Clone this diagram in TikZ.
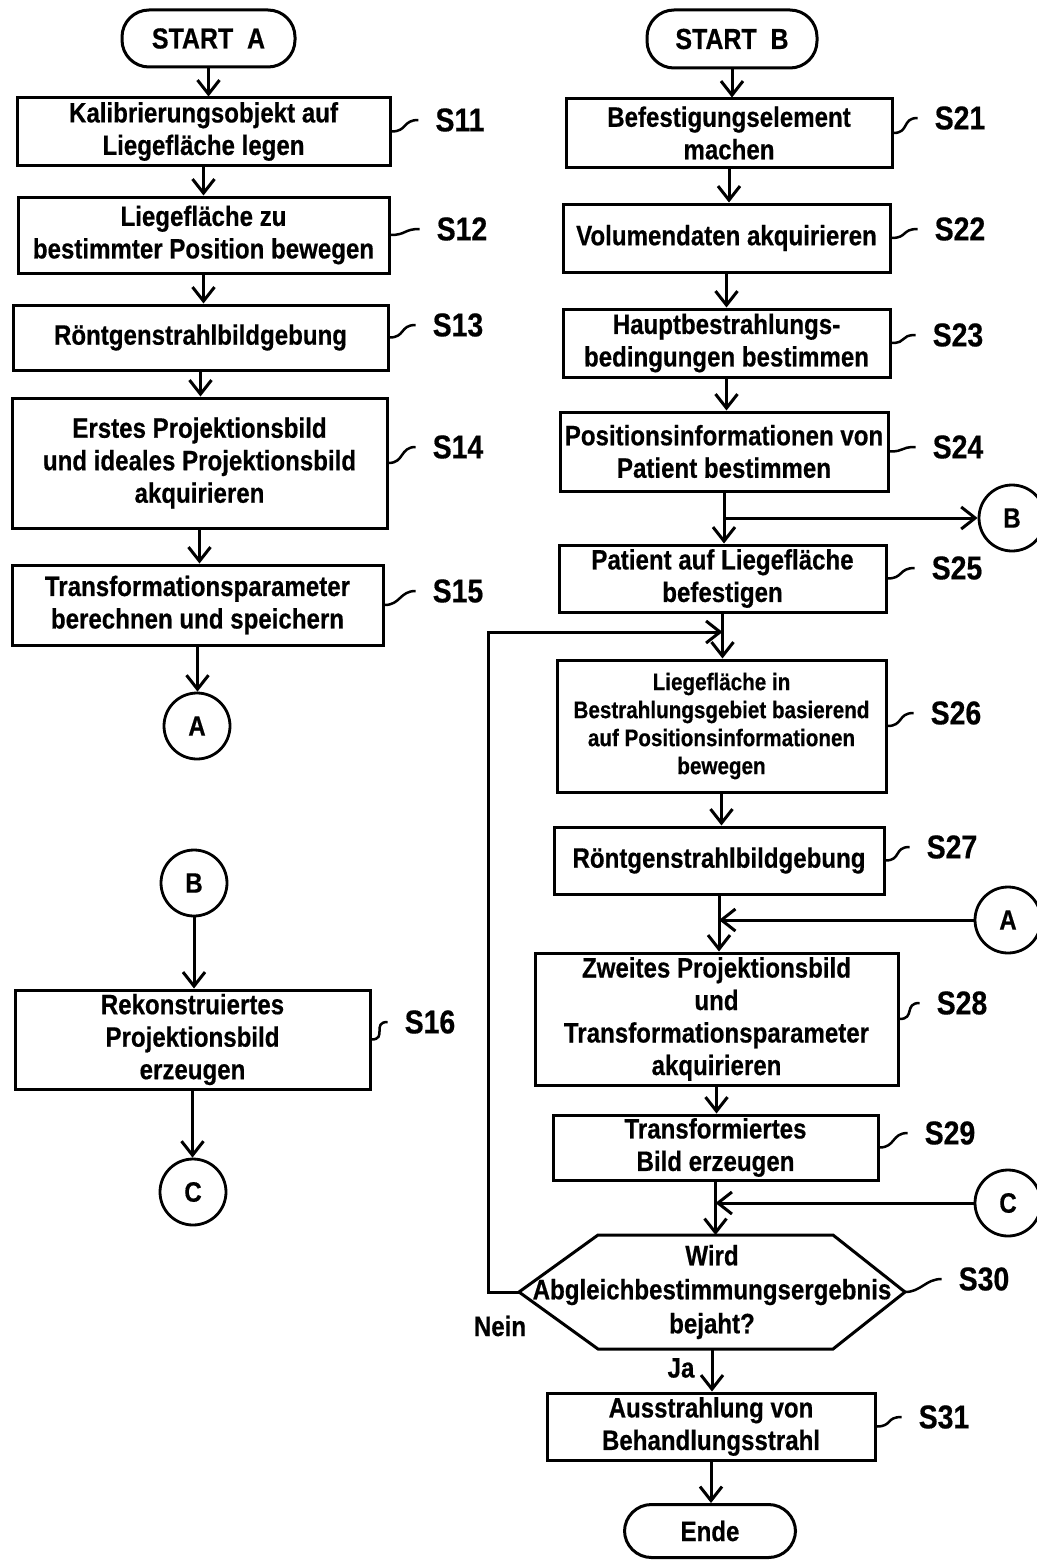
\documentclass[tikz,border=0pt]{standalone}
\usepackage{fontspec}
\setmainfont{Liberation Sans}[FakeStretch=0.86, BoldFeatures={FakeBold=0.5}]
\usetikzlibrary{arrows.meta}
\begin{document}
\begin{tikzpicture}[x=1pt,y=-1pt,
  every node/.style={font=\bfseries\fontsize{28}{32.5}\selectfont},
  box/.style={draw, rectangle, line width=3pt, align=center, inner sep=0pt},
  pill/.style={draw, rectangle, rounded corners=27pt, line width=3pt, inner sep=0pt, font=\bfseries\fontsize{29}{32}\selectfont},
  conn/.style={draw, circle, line width=2.8pt, minimum size=66pt, inner sep=0pt, font=\bfseries\fontsize{28}{30}\selectfont},
  lab/.style={font=\bfseries\fontsize{33}{36}\selectfont, inner sep=1pt},
  arr/.style={line width=3pt, -{Straight Barb[length=14pt,width=22pt]}},
  ln/.style={line width=3pt},
  leader/.style={line width=2.5pt},
  small/.style={font=\bfseries\fontsize{24}{28}\selectfont},
]
\useasboundingbox (0,0) rectangle (1036,1560);

% ---------- left column ----------
\node[pill, minimum width=173pt, minimum height=57pt] (sa) at (208.5,38.5) {START\ \ A};
\node[box, minimum width=373pt, minimum height=67pt] (s11) at (203.5,131.5) {Kalibrierungsobjekt auf\\Liegefläche legen};
\node[box, minimum width=371pt, minimum height=76pt] (s12) at (203.5,235) {Liegefläche zu\\bestimmter Position bewegen};
\node[box, minimum width=375pt, minimum height=65pt] (s13) at (200.5,337.5) {Röntgenstrahlbildgebung};
\node[box, minimum width=375pt, minimum height=130pt] (s14) at (199.5,463) {Erstes Projektionsbild\\und ideales Projektionsbild\\akquirieren};
\node[box, minimum width=371pt, minimum height=80pt] (s15) at (197.5,605) {Transformationsparameter\\berechnen und speichern};
\node[conn] (aL) at (197,726) {A};
\node[conn] (bL) at (194,883) {B};
\node[box, minimum width=355pt, minimum height=99pt] (s16) at (192.5,1039.5) {Rekonstruiertes\\Projektionsbild\\erzeugen};
\node[conn] (cL) at (193,1192) {C};

\node[lab] (l11) at (460,120) {S11};
\node[lab] (l12) at (462,229) {S12};
\node[lab] (l13) at (458,325) {S13};
\node[lab] (l14) at (458,447) {S14};
\node[lab] (l15) at (458,591) {S15};
\node[lab] (l16) at (430,1022) {S16};

\draw[arr] (sa.south) -- (sa.south |- s11.north);
\draw[arr] (s11.south) -- (s11.south |- s12.north);
\draw[arr] (s12.south) -- (s12.south |- s13.north);
\draw[arr] (s13.south) -- (s13.south |- s14.north);
\draw[arr] (s14.south) -- (s14.south |- s15.north);
\draw[arr] (s15.south) -- (s15.south |- aL.north);
\draw[arr] (bL.south) -- (bL.south |- s16.north);
\draw[arr] (s16.south) -- (s16.south |- cL.north);

\foreach \b/\l in {s11/l11,s12/l12,s13/l13,s14/l14,s15/l15,s16/l16}
  \draw[leader] (\b.east) .. controls +(16,0) and +(-16,0) .. ([xshift=-16pt]\l.west);

% ---------- right column ----------
\node[pill, minimum width=170pt, minimum height=58pt] (sb) at (732,39) {START\ \ B};
\node[box, minimum width=326pt, minimum height=68pt] (s21) at (729,133) {Befestigungselement\\machen};
\node[box, minimum width=327pt, minimum height=68pt] (s22) at (726.5,238) {Volumendaten akquirieren};
\node[box, minimum width=327pt, minimum height=68pt] (s23) at (726.5,343) {Hauptbestrahlungs-\\bedingungen bestimmen};
\node[box, minimum width=328pt, minimum height=79pt] (s24) at (724,451.5) {Positionsinformationen von\\Patient bestimmen};
\node[conn] (bR) at (1012,518) {B};
\node[box, minimum width=327pt, minimum height=67pt] (s25) at (722.5,578.5) {Patient auf Liegefläche\\befestigen};
\node[box, small, minimum width=329pt, minimum height=132pt] (s26) at (721.5,726) {Liegefläche in\\Bestrahlungsgebiet basierend\\auf Positionsinformationen\\bewegen};
\node[box, minimum width=330pt, minimum height=67pt] (s27) at (719,860.5) {Röntgenstrahlbildgebung};
\node[conn] (aR) at (1008,920) {A};
\node[box, minimum width=363pt, minimum height=132pt] (s28) at (716.5,1019) {Zweites Projektionsbild\\und\\Transformationsparameter\\akquirieren};
\node[box, minimum width=325pt, minimum height=65pt] (s29) at (715.5,1147.5) {Transformiertes\\Bild erzeugen};
\node[conn] (cR) at (1008,1203) {C};
\node[align=center, inner sep=0pt, font=\bfseries\fontsize{28}{34}\selectfont] (s30) at (712,1292) {Wird\\Abgleichbestimmungsergebnis\\bejaht?};
\coordinate (hl) at (519,1292);
\coordinate (hr) at (905,1292);
\draw[ln] (hl) -- (598,1235) -- (833,1235) -- (hr) -- (833,1349) -- (598,1349) -- cycle;
\node[box, minimum width=328pt, minimum height=67pt] (s31) at (711,1426.5) {Ausstrahlung von\\Behandlungsstrahl};
\node[pill, minimum width=171pt, minimum height=53pt, font=\bfseries\fontsize{28}{30}\selectfont] (ende) at (710,1531) {Ende};

\node[lab] (l21) at (960,118) {S21};
\node[lab] (l22) at (960,229) {S22};
\node[lab] (l23) at (958,335) {S23};
\node[lab] (l24) at (958,447) {S24};
\node[lab] (l25) at (957,568) {S25};
\node[lab] (l26) at (956,713) {S26};
\node[lab] (l27) at (952,847) {S27};
\node[lab] (l28) at (962,1003) {S28};
\node[lab] (l29) at (950,1133) {S29};
\node[lab] (l30) at (984,1279) {S30};
\node[lab] (l31) at (944,1417) {S31};

\foreach \b/\l in {s21/l21,s22/l22,s23/l23,s24/l24,s25/l25,s26/l26,s27/l27,s28/l28,s29/l29,s31/l31}
  \draw[leader] (\b.east) .. controls +(16,0) and +(-16,0) .. ([xshift=-16pt]\l.west);
\draw[leader] (hr) .. controls +(16,0) and +(-16,0) .. ([xshift=-16pt]l30.west);

\node (nein) at (500,1326) {Nein};
\node (ja) at (681,1368) {Ja};

\draw[arr] (sb.south) -- (sb.south |- s21.north);
\draw[arr] (s21.south) -- (s21.south |- s22.north);
\draw[arr] (s22.south) -- (s22.south |- s23.north);
\draw[arr] (s23.south) -- (s23.south |- s24.north);
\draw[arr] (s24.south) -- (s24.south |- s25.north);
\draw[arr] (s24.south |- bR.west) -- (bR.west);
\draw[arr] (s25.south) -- (s25.south |- s26.north);
\draw[arr] (s26.south) -- (s26.south |- s27.north);
\draw[arr] (s27.south) -- (s27.south |- s28.north);
\draw[arr] (aR.west) -- (s27.south |- aR.west);
\draw[arr] (s28.south) -- (s28.south |- s29.north);
\draw[arr] (s29.south) -- (s29.south |- 0,1235);
\draw[arr] (cR.west) -- (s29.south |- cR.west);
\draw[arr] (s30.center |- 0,1349) -- (s30.center |- s31.north);
\draw[arr] (s31.south) -- (s31.south |- ende.north);
\coordinate (loopc) at (488,1292);
\coordinate (loopt) at (722.5,632);
\draw[arr] (hl) -- (loopc) |- (loopt);
\end{tikzpicture}
\end{document}
